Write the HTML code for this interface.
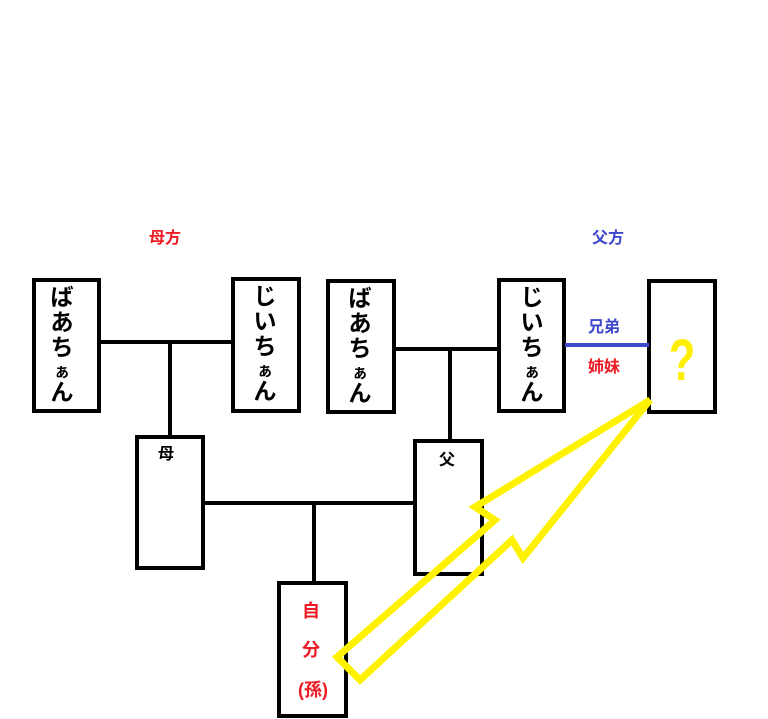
<!DOCTYPE html>
<html><head><meta charset="utf-8"><style>
html,body{margin:0;padding:0;background:#fff;}
svg{display:block;}
text{font-family:"Liberation Sans","Noto Sans CJK JP",sans-serif;}
</style></head><body>
<svg width="768" height="719" viewBox="0 0 768 719" xmlns="http://www.w3.org/2000/svg">
<g stroke="#000" stroke-width="4" fill="none">
<line x1="99" y1="342" x2="232" y2="342"/>
<line x1="170" y1="342" x2="170" y2="436"/>
<line x1="394" y1="349" x2="498" y2="349"/>
<line x1="450" y1="349" x2="450" y2="440"/>
<line x1="203" y1="503" x2="414" y2="503"/>
<line x1="314" y1="503" x2="314" y2="582"/>
<rect x="34" y="280" width="65" height="131"/>
<rect x="233" y="279" width="66" height="132"/>
<rect x="328" y="281" width="66" height="131"/>
<rect x="499" y="280" width="65" height="131"/>
<rect x="649" y="281" width="66" height="131"/>
<rect x="137" y="437" width="66" height="131"/>
<rect x="415" y="441" width="67" height="133"/>
<rect x="279" y="583" width="67" height="133"/>
</g>
<line x1="565" y1="345" x2="649" y2="345" stroke="#3f48cc" stroke-width="4"/>
<g font-size="23" fill="#000" text-anchor="middle" font-weight="bold">
<text x="62" y="305">ば</text><text x="62" y="330">あ</text><text x="62" y="355">ち</text><text x="62" y="377" font-size="16">ぁ</text><text x="62" y="400">ん</text>
<text x="265" y="304">じ</text><text x="265" y="329">い</text><text x="265" y="354">ち</text><text x="265" y="376" font-size="16">ぁ</text><text x="265" y="399">ん</text>
<text x="360" y="306">ば</text><text x="360" y="331">あ</text><text x="360" y="356">ち</text><text x="360" y="378" font-size="16">ぁ</text><text x="360" y="401">ん</text>
<text x="532" y="305">じ</text><text x="532" y="330">い</text><text x="532" y="355">ち</text><text x="532" y="377" font-size="16">ぁ</text><text x="532" y="400">ん</text>
</g>
<g font-size="16" font-weight="bold" text-anchor="middle">
<text x="166" y="459" fill="#000">母</text>
<text x="447" y="465" fill="#000">父</text>
<text x="165" y="243" fill="#ed1c24">母方</text>
<text x="608" y="243" fill="#3f48cc">父方</text>
<text x="604" y="332" fill="#3f48cc">兄弟</text>
<text x="604" y="372" fill="#ed1c24">姉妹</text>
<text x="311" y="617" fill="#ed1c24" font-size="18">自</text>
<text x="311" y="656" fill="#ed1c24" font-size="18">分</text>
<text x="313" y="696" fill="#ed1c24" font-size="18">(孫)</text>
</g>
<text x="0" y="0" font-size="58" font-weight="bold" fill="#ffee00" text-anchor="middle" transform="translate(682,380) scale(0.75,1)">?</text>
<polygon points="337,657 495,520 475,507 650,400 523,558 512,540 360,680" fill="none" stroke="#fff200" stroke-width="7" stroke-linejoin="miter"/>
</svg>
</body></html>
